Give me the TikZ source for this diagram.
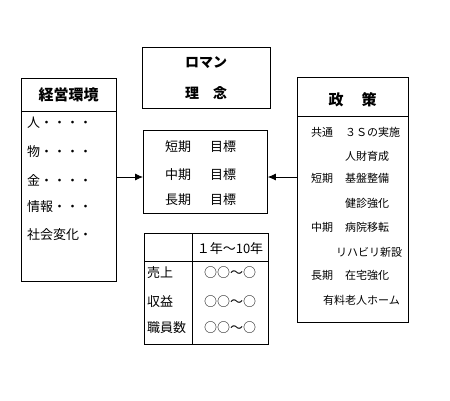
\documentclass[tikz,border=0pt]{standalone}
\usepackage{fontspec}
\setmainfont{Noto Sans CJK JP}
\usetikzlibrary{arrows.meta}
\tikzset{
  box/.style={draw, line width=0.8pt, inner sep=0pt, anchor=north west},
  txt/.style={inner sep=0pt, anchor=west},
  ctxt/.style={inner sep=0pt, anchor=center},
  arr/.style={line width=0.8pt, -{Latex[length=8pt,width=7pt]}},
  rule/.style={line width=0.8pt}
}
\begin{document}
\begin{tikzpicture}[x=1pt,y=-1pt]
\useasboundingbox (0,0) rectangle (450,400);
% left box
\node[box, minimum width=95, minimum height=203] (env) at (21,78) {};
\draw[rule] (env.west |- 0,111) -- (env.east |- 0,111);
\node[ctxt, font=\fontsize{15}{15}\selectfont\bfseries] (envt) at (68.5,95) {経営環境};
\node[txt, font=\fontsize{13}{13}\selectfont] (e1) at (27,123) {人・・・・};
\node[txt, font=\fontsize{13}{13}\selectfont] (e2) at (27,152) {物・・・・};
\node[txt, font=\fontsize{13}{13}\selectfont] (e3) at (27,180) {金・・・・};
\node[txt, font=\fontsize{13}{13}\selectfont] (e4) at (27,207) {情報・・・};
\node[txt, font=\fontsize{13}{13}\selectfont] (e5) at (27,235) {社会変化・};
% roman box
\node[box, minimum width=128, minimum height=61] (rom) at (142,47) {};
\node[ctxt, font=\fontsize{14}{14}\selectfont\bfseries] (r1) at (206,63) {ロマン};
\node[ctxt, font=\fontsize{14}{14}\selectfont\bfseries] (r2) at (206,93) {理　念};
% goals box
\node[box, minimum width=124, minimum height=83] (goals) at (143,130) {};
\node[txt, font=\fontsize{13}{13}\selectfont] (g1) at (165,147) {短期\hspace{19pt}目標};
\node[txt, font=\fontsize{13}{13}\selectfont] (g2) at (165,175) {中期\hspace{19pt}目標};
\node[txt, font=\fontsize{13}{13}\selectfont] (g3) at (165,200) {長期\hspace{19pt}目標};
% table
\node[box, minimum width=124, minimum height=111] (tbl) at (144,233) {};
\draw[rule] (tbl.west |- 0,261) -- (tbl.east |- 0,261);
\draw[rule] (tbl.north -| 192,0) -- (tbl.south -| 192,0);
\node[ctxt, font=\fontsize{13}{13}\selectfont] (th) at (230,249) {１年～10年};
\node[txt, font=\fontsize{13}{13}\selectfont] (t1) at (147,273) {売上};
\node[txt, font=\fontsize{13}{13}\selectfont] (t2) at (147,302) {収益};
\node[txt, font=\fontsize{13}{13}\selectfont] (t3) at (147,328) {職員数};
\node[ctxt, font=\fontsize{13}{13}\selectfont] (v1) at (230,273) {○○～○};
\node[ctxt, font=\fontsize{13}{13}\selectfont] (v2) at (230,302) {○○～○};
\node[ctxt, font=\fontsize{13}{13}\selectfont] (v3) at (230,328) {○○～○};
% policy box
\node[box, minimum width=111, minimum height=245] (pol) at (297,77) {};
\draw[rule] (pol.west |- 0,116) -- (pol.east |- 0,116);
\node[ctxt, font=\fontsize{15}{15}\selectfont\bfseries] (polt) at (352.5,100) {政\hspace{18pt}策};
\begin{scope}[every node/.style={txt, font=\fontsize{11}{11}\selectfont}]
\node (p1) at (311,132) {共通};
\node (p1b) at (345,132) {３Ｓの実施};
\node (p2) at (345,156) {人財育成};
\node (p3) at (311,178) {短期};
\node (p3b) at (345,178) {基盤整備};
\node (p4) at (345,203) {健診強化};
\node (p5) at (311,227) {中期};
\node (p5b) at (345,227) {病院移転};
\node (p6) at (336,252) {リハビリ新設};
\node (p7) at (311,275) {長期};
\node (p7b) at (345,275) {在宅強化};
\node (p8) at (323,300) {有料老人ホーム};
\end{scope}
% arrows
\coordinate (a1) at (116,177);
\coordinate (a2) at (297,177);
\draw[arr] (a1) -- (a1 -| goals.west);
\draw[arr] (a2) -- (a2 -| goals.east);
\end{tikzpicture}
\end{document}
